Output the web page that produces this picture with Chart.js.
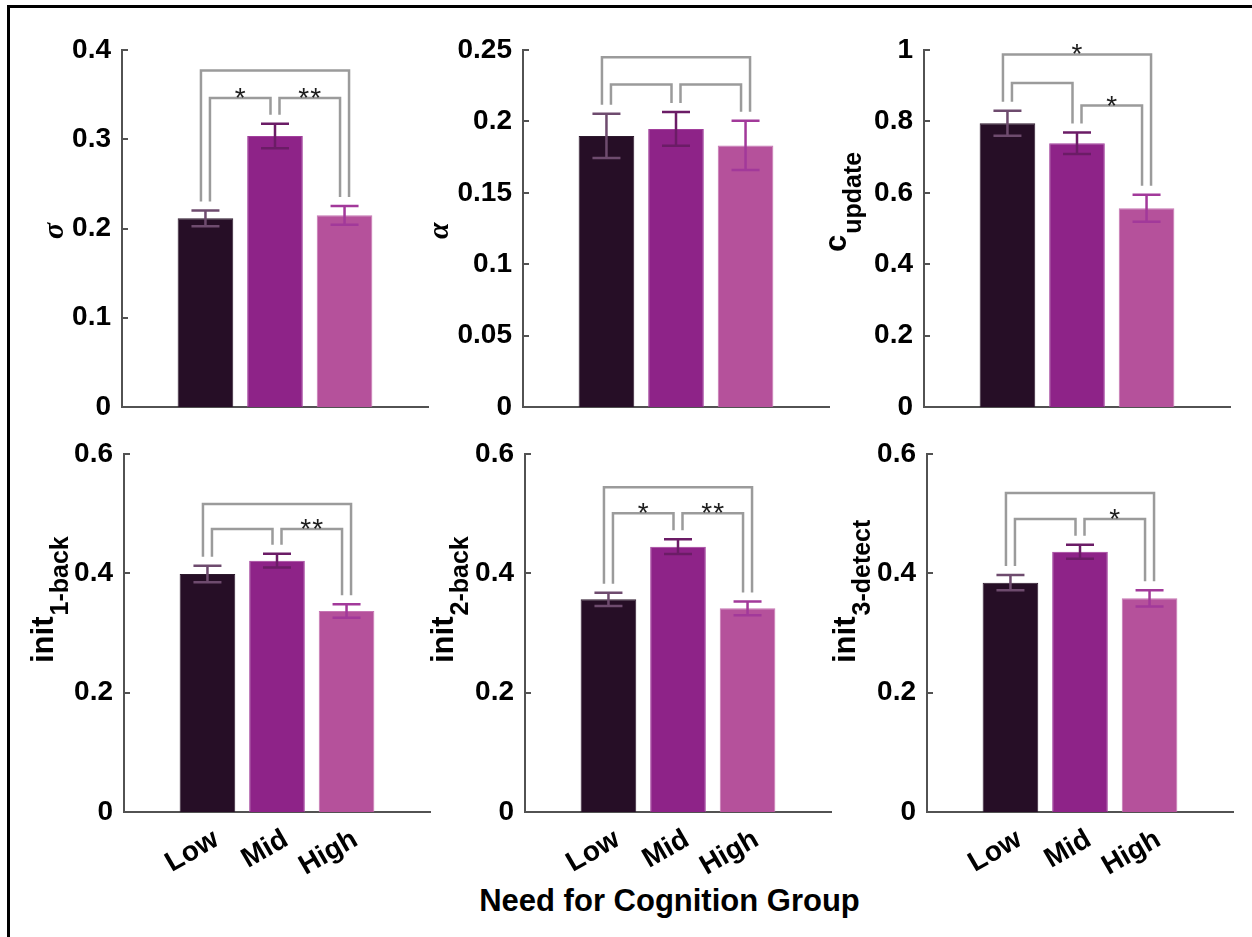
<!DOCTYPE html>
<html><head><meta charset="utf-8">
<script src="https://cdn.jsdelivr.net/npm/chart.js@4.4.1/dist/chart.umd.min.js"></script>
<style>
html,body{margin:0;padding:0;background:#fff;}
#fig{position:relative;width:1252px;height:937px;overflow:hidden;background:#fff;}
#frame{position:absolute;left:7px;top:5px;width:1300px;height:1000px;border-left:3px solid #000;border-top:3px solid #000;}
#xtitle{position:absolute;left:0;top:885px;width:1339px;text-align:center;font:bold 31px "Liberation Sans",Arial,sans-serif;line-height:31px;color:#000;white-space:nowrap;}
canvas{position:absolute;}
</style>
</head><body>
<div id="fig"><div id="frame"></div><div id="xtitle">Need for Cognition Group</div></div>
<script>
// ---------------- data ----------------
const groups = ['Low', 'Mid', 'High'];

const sigmaMean = [0.2114, 0.3036, 0.2148];
const sigmaErr  = [0.0088, 0.0137, 0.0105];
const alphaMean = [0.1898, 0.1947, 0.1832];
const alphaErr  = [0.0155, 0.0118, 0.0172];
const cUpdateMean = [0.7946, 0.7386, 0.5566];
const cUpdateErr  = [0.035, 0.030, 0.038];
const init1Mean = [0.3989, 0.4212, 0.3369];
const init1Err  = [0.0140, 0.0115, 0.0113];
const init2Mean = [0.3564, 0.4447, 0.3413];
const init2Err  = [0.0110, 0.0123, 0.0115];
const init3Mean = [0.3843, 0.4363, 0.3581];
const init3Err  = [0.0128, 0.0117, 0.0137];

const sigmaTicks   = [0, 0.1, 0.2, 0.3, 0.4];
const alphaTicks   = [0, 0.05, 0.1, 0.15, 0.2, 0.25];
const cUpdateTicks = [0, 0.2, 0.4, 0.6, 0.8, 1];
const initTicks    = [0, 0.2, 0.4, 0.6];

// significance brackets: pairs (Low-Mid, Mid-High, Low-High), their heights and star counts
const bracketPairs = [[0, 1], [1, 2], [0, 2]];
const sigmaLevels   = [0.3463, 0.3463, 0.377];
const sigmaStars    = [1, 2, 0];
const alphaLevels   = [0.2258, 0.2258, 0.245];
const alphaStars    = [0, 0, 0];
const cUpdateLevels = [0.9078, 0.8445, 0.9874];
const cUpdateStars  = [0, 1, 1];
const init1Levels   = [0.4745, 0.4745, 0.5163];
const init1Stars    = [0, 2, 0];
const init2Levels   = [0.5008, 0.5008, 0.5443];
const init2Stars    = [1, 2, 0];
const init3Levels   = [0.4912, 0.4912, 0.5348];
const init3Stars    = [0, 1, 0];

// ---------------- style ----------------
const barColors = ['#260e26', '#8e2388', '#b5519b'];
const barEdges  = ['#2e1a2e', '#a23f9c', '#c675b3'];
const errColors = ['#6e4b6e', '#6b1c66', '#a2399a'];
const AXIS = '#525252';
const BRACKET = '#9b9b9b';
const SANS = '"Liberation Sans", Arial, Helvetica, sans-serif';
const AXL = 120, PADT = 32, PADR = 10;

const panels = [
  {mean: sigmaMean, err: sigmaErr, ticks: sigmaTicks, levels: sigmaLevels, stars: sigmaStars,
   left: 122, right: 428, top: 50, bottom: 407, xh: 32, showX: false,
   title: 'σ', sub: '', tfont: 'italic bold 30px "Liberation Serif", serif', tx: 63, ty: 239},
  {mean: alphaMean, err: alphaErr, ticks: alphaTicks, levels: alphaLevels, stars: alphaStars,
   left: 523, right: 829, top: 50, bottom: 407, xh: 32, showX: false,
   title: 'α', sub: '', tfont: 'italic bold 30px "Liberation Serif", serif', tx: 448, ty: 239},
  {mean: cUpdateMean, err: cUpdateErr, ticks: cUpdateTicks, levels: cUpdateLevels, stars: cUpdateStars,
   left: 924, right: 1230, top: 50, bottom: 407, xh: 32, showX: false,
   title: 'c', sub: 'update', tfont: 'bold 31px ' + SANS, tx: 845.5, ty: 252},
  {mean: init1Mean, err: init1Err, ticks: initTicks, levels: init1Levels, stars: init1Stars,
   left: 124, right: 430, top: 454, bottom: 812, xh: 80, showX: true,
   title: 'init', sub: '1-back', tfont: 'bold 31px ' + SANS, tx: 52.5, ty: 663},
  {mean: init2Mean, err: init2Err, ticks: initTicks, levels: init2Levels, stars: init2Stars,
   left: 525, right: 831, top: 454, bottom: 812, xh: 80, showX: true,
   title: 'init', sub: '2-back', tfont: 'bold 31px ' + SANS, tx: 453, ty: 663},
  {mean: init3Mean, err: init3Err, ticks: initTicks, levels: init3Levels, stars: init3Stars,
   left: 927, right: 1233, top: 454, bottom: 812, xh: 80, showX: true,
   title: 'init', sub: '3-detect', tfont: 'bold 31px ' + SANS, tx: 855, ty: 663}
];

const fig = document.getElementById('fig');

function buildPanel(p, idx) {
  const W = AXL + (p.right - p.left) + PADR;
  const H = PADT + (p.bottom - p.top) + p.xh;
  const ox = p.left - AXL, oy = p.top - PADT;
  const canvas = document.createElement('canvas');
  canvas.width = W; canvas.height = H;
  canvas.style.left = ox + 'px'; canvas.style.top = oy + 'px';
  canvas.style.width = W + 'px'; canvas.style.height = H + 'px';
  fig.appendChild(canvas);

  const overlay = {
    id: 'overlay' + idx,
    afterDraw(chart) {
      const ctx = chart.ctx;
      const xs = chart.scales.x, ys = chart.scales.y;
      ctx.save();
      // inward y ticks
      ctx.strokeStyle = AXIS; ctx.lineWidth = 2;
      p.ticks.forEach(v => {
        const py = Math.round(ys.getPixelForValue(v));
        ctx.beginPath(); ctx.moveTo(xs.left, py); ctx.lineTo(xs.left + 6, py); ctx.stroke();
      });
      // error bars
      ctx.lineWidth = 2.5;
      p.mean.forEach((m, i) => {
        const cx = xs.getPixelForValue(i + 1);
        const t = ys.getPixelForValue(m + p.err[i]);
        const b = ys.getPixelForValue(m - p.err[i]);
        ctx.strokeStyle = errColors[i];
        ctx.beginPath();
        ctx.moveTo(cx, t); ctx.lineTo(cx, b);
        ctx.moveTo(cx - 14, t); ctx.lineTo(cx + 14, t);
        ctx.moveTo(cx - 14, b); ctx.lineTo(cx + 14, b);
        ctx.stroke();
      });
      // significance brackets
      ctx.strokeStyle = BRACKET; ctx.lineWidth = 2.5; ctx.lineJoin = 'miter';
      bracketPairs.forEach((pr, k) => {
        const [a, b] = pr;
        const outer = (b - a) > 1;
        const xa = xs.getPixelForValue(a + 1) + (outer ? -4.5 : 4.5);
        const xb = xs.getPixelForValue(b + 1) + (outer ? 4.5 : -4.5);
        const ya = ys.getPixelForValue(p.mean[a] + p.err[a]) - 9;
        const yb = ys.getPixelForValue(p.mean[b] + p.err[b]) - 9;
        const yl = ys.getPixelForValue(p.levels[k]);
        ctx.beginPath();
        ctx.moveTo(xa, ya); ctx.lineTo(xa, yl); ctx.lineTo(xb, yl); ctx.lineTo(xb, yb);
        ctx.stroke();
        const n = p.stars[k];
        if (n > 0) {
          ctx.fillStyle = '#1e1e1e';
          ctx.font = '28px ' + SANS;
          ctx.textAlign = 'center'; ctx.textBaseline = 'alphabetic';
          const cx = (xa + xb) / 2;
          for (let s = 0; s < n; s++) {
            ctx.fillText('*', cx + (s - (n - 1) / 2) * 12, yl + 9);
          }
        }
      });
      // y-axis title (with subscript)
      ctx.translate(p.tx - ox, p.ty - oy);
      ctx.rotate(-Math.PI / 2);
      ctx.fillStyle = '#000';
      ctx.textAlign = 'left'; ctx.textBaseline = 'alphabetic';
      ctx.font = p.tfont;
      ctx.fillText(p.title, 0, 0);
      if (p.sub) {
        const w = ctx.measureText(p.title).width;
        ctx.font = 'bold 25px ' + SANS;
        ctx.fillText(p.sub, w + 1, 15);
      }
      ctx.restore();
    }
  };

  new Chart(canvas, {
    type: 'bar',
    data: {
      datasets: [{
        data: p.mean.map((v, i) => ({x: i + 1, y: v})),
        backgroundColor: barColors,
        borderColor: barEdges,
        borderWidth: 1,
        barPercentage: 0.8,
        categoryPercentage: 1
      }]
    },
    options: {
      responsive: false,
      animation: false,
      devicePixelRatio: 1,
      layout: {padding: {top: PADT, right: PADR, left: 0, bottom: 0}},
      plugins: {legend: {display: false}, tooltip: {enabled: false}},
      scales: {
        x: {
          type: 'linear', min: -0.2, max: 4.2, offset: false,
          afterBuildTicks: s => { s.ticks = groups.map((g, i) => ({value: i + 1})); },
          afterFit: s => { s.height = p.xh; },
          grid: {display: false, drawTicks: false, offset: false},
          border: {display: true, color: AXIS, width: 2},
          ticks: {
            display: p.showX, autoSkip: false, minRotation: 30, maxRotation: 30,
            padding: 11, labelOffset: 9,
            color: '#000', font: {family: SANS, size: 28, weight: 'bold'},
            callback: v => groups[v - 1]
          }
        },
        y: {
          min: 0, max: p.ticks[p.ticks.length - 1],
          afterBuildTicks: s => { s.ticks = p.ticks.map(v => ({value: v})); },
          afterFit: s => { s.width = AXL; },
          grid: {display: false, drawTicks: false},
          border: {display: true, color: AXIS, width: 2},
          ticks: {
            padding: 11, color: '#000', font: {family: SANS, size: 28, weight: 'bold'},
            callback: v => String(v)
          }
        }
      }
    },
    plugins: [overlay]
  });
}

panels.forEach(buildPanel);
</script>
</body></html>
